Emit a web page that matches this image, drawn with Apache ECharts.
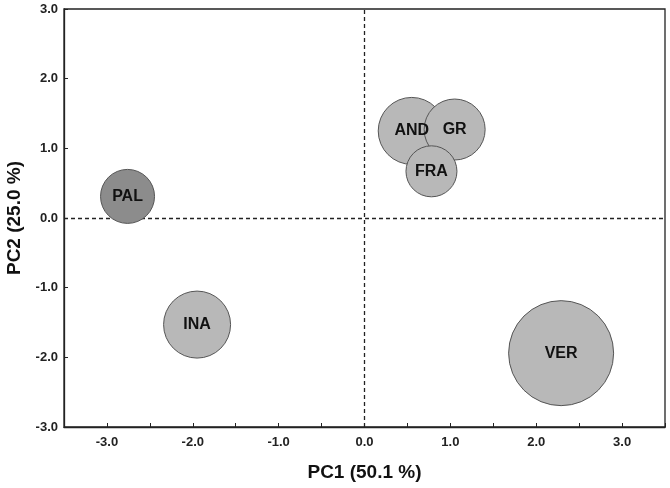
<!DOCTYPE html>
<html>
<head>
<meta charset="utf-8">
<script src="https://cdn.jsdelivr.net/npm/echarts@6/dist/echarts.min.js"></script>
<style>html,body{margin:0;padding:0;background:#fff}#c{width:670px;height:488px}</style>
</head>
<body>
<div id="c"></div>
<script>
// Data
const names = ['PAL', 'INA', 'AND', 'GR', 'FRA', 'VER'];
const pc1 = [-2.76, -1.95, 0.55, 1.05, 0.78, 2.29];
const pc2 = [0.31, -1.53, 1.25, 1.27, 0.67, -1.94];
const sizes = [5.4, 6.7, 6.7, 6.1, 5.1, 10.5];
const xTicks = ['-3.0', '-2.0', '-1.0', '0.0', '1.0', '2.0', '3.0'];
const yTicks = ['-3.0', '-2.0', '-1.0', '0.0', '1.0', '2.0', '3.0'];
const xName = 'PC1 (50.1 %)';
const yName = 'PC2 (25.0 %)';

const FONT = '"Liberation Sans", Arial, sans-serif';
const points = names.map((n, i) => ({ name: n, value: [pc1[i], pc2[i], sizes[i]] }));

const chart = echarts.init(document.getElementById('c'), null, { renderer: 'canvas' });
chart.setOption({
  animation: false,
  backgroundColor: '#fff',
  grid: { left: 64, right: 5, top: 9, bottom: 61, containLabel: false, outerBoundsMode: 'none', show: true, borderColor: '#222', borderWidth: 1.3, backgroundColor: 'transparent' },
  xAxis: {
    type: 'value', min: -3.5, max: 3.5, interval: 0.5,
    name: xName, nameLocation: 'middle', nameGap: 36,
    nameTextStyle: { fontFamily: FONT, fontWeight: 'bold', fontSize: 19, color: '#111' },
    axisLine: { show: true, onZero: false, lineStyle: { color: '#222', width: 1.3 } },
    axisTick: { show: true, inside: true, length: 4, lineStyle: { color: '#222' } },
    splitLine: { show: false },
    axisLabel: {
      margin: 9, fontFamily: FONT, fontWeight: 'bold', fontSize: 13, color: '#222',
      formatter: v => { const s = Number(v).toFixed(1); return xTicks.indexOf(s) >= 0 && Math.abs(v - Math.round(v)) < 1e-9 ? s : ''; }
    }
  },
  yAxis: {
    type: 'value', min: -3, max: 3, interval: 1,
    name: yName, nameLocation: 'middle', nameGap: 40, nameRotate: 90,
    nameTextStyle: { fontFamily: FONT, fontWeight: 'bold', fontSize: 19, color: '#111' },
    axisLine: { show: true, onZero: false, lineStyle: { color: '#222', width: 1.3 } },
    axisTick: { show: true, inside: true, length: 4, lineStyle: { color: '#222' } },
    splitLine: { show: false },
    axisLabel: {
      margin: 6, fontFamily: FONT, fontWeight: 'bold', fontSize: 13, color: '#222',
      formatter: v => { const s = Number(v).toFixed(1); return yTicks.indexOf(s) >= 0 ? s : ''; }
    }
  },
  series: [{
    type: 'scatter',
    data: points,
    symbol: 'circle',
    symbolSize: v => v[2] * 10,
    itemStyle: {
      color: p => p.name === 'PAL' ? '#8c8c8c' : '#b8b8b8',
      borderColor: '#555', borderWidth: 1, opacity: 1
    },
    label: {
      show: true, position: 'inside', formatter: p => p.name,
      fontFamily: FONT, fontWeight: 'bold', fontSize: 16, color: '#111'
    },
    markLine: {
      silent: true, symbol: 'none', label: { show: false },
      lineStyle: { color: '#222', type: [4, 3], width: 1.3 },
      data: [{ xAxis: 0 }, { yAxis: 0 }],
      z: 1
    },
    z: 3
  }]
});
</script>
</body>
</html>
